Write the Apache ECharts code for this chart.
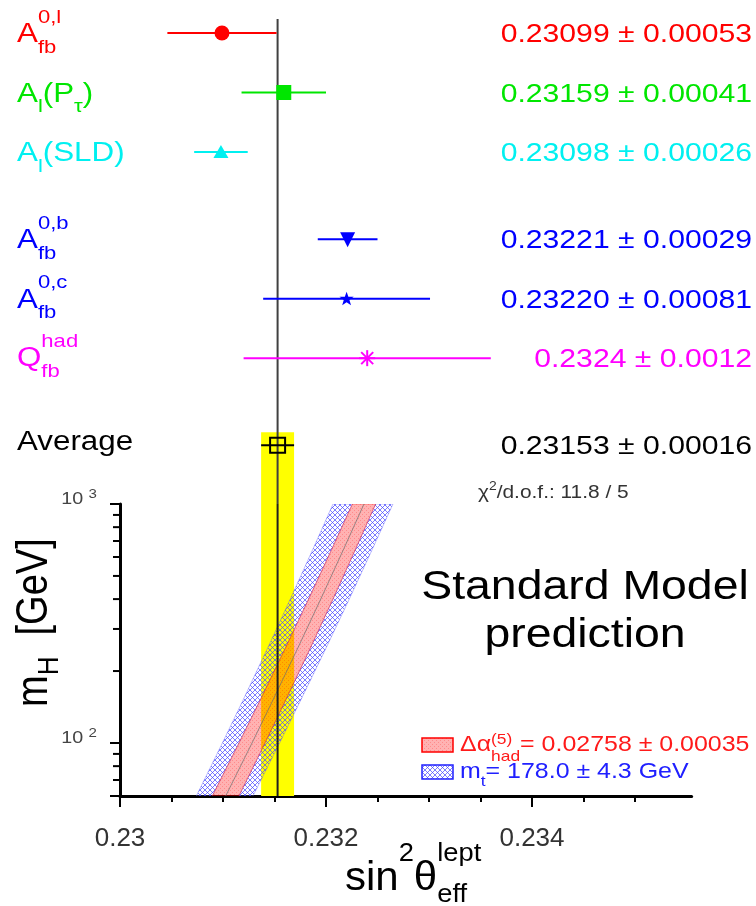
<!DOCTYPE html>
<html><head><meta charset="utf-8">
<script src="https://cdn.jsdelivr.net/npm/echarts@6/dist/echarts.min.js"></script>
<style>html,body{margin:0;padding:0;background:#fff}#c{width:756px;height:906px}</style>
</head><body><div id="c"></div>
<script>
// ---------------- data ----------------
const measLabels = [
  [['A','n'],['fb','sub'],['0,l','sup']],
  [['A','n'],['l','sub'],['(P','n'],['τ','sub'],[')','n']],
  [['A','n'],['l','sub'],['(SLD)','n']],
  [['A','n'],['fb','sub'],['0,b','sup']],
  [['A','n'],['fb','sub'],['0,c','sup']],
  [['Q','n'],['fb','sub'],['had','sup']],
  [['Average','n']]
];
const measValues = [0.23099, 0.23159, 0.23098, 0.23221, 0.23220, 0.2324, 0.23153];
const measErrors = [0.00053, 0.00041, 0.00026, 0.00029, 0.00081, 0.0012, 0.00016];
const measValueText = ['0.23099 ± 0.00053','0.23159 ± 0.00041','0.23098 ± 0.00026',
  '0.23221 ± 0.00029','0.23220 ± 0.00081','0.2324 ± 0.0012','0.23153 ± 0.00016'];
const measGroup = [0,0,0,1,1,1,2];
const chi2Text = [['χ','n'],['2','sup'],['/d.o.f.: 11.8 / 5','n']];

const xTickLabels = [0.23, 0.232, 0.234];
const xMinorTicks = [0.2305, 0.231, 0.2315, 0.2325, 0.233, 0.2335, 0.2345, 0.235];
const mHTickLabels = [100, 1000];
const mHMinorTicks = [60, 70, 80, 90, 200, 300, 400, 500, 600, 700, 800, 900];

// SM prediction bands vs m_H (GeV)
const bandMH     = [60, 100, 150, 250, 400, 650, 1000];
const alphaLo    = [0.230896, 0.231155, 0.231357, 0.231606, 0.231831, 0.232058, 0.232256];
const alphaHi    = [0.231155, 0.231408, 0.231605, 0.231849, 0.232068, 0.232289, 0.232482];
const mtLo       = [0.230741, 0.230994, 0.231191, 0.231434, 0.231653, 0.231875, 0.232068];
const mtHi       = [0.231291, 0.231550, 0.231751, 0.232001, 0.232226, 0.232452, 0.232650];
const smCentral  = [0.231026, 0.231282, 0.231481, 0.231727, 0.231949, 0.232173, 0.232369];

const legendAlpha = [['Δα','n'],['had','sub'],['(5)','sup'],['= 0.02758 ± 0.00035','n']];
const legendMt = [['m','n'],['t','sub'],['= 178.0 ± 4.3 GeV','n']];
const xTitle = [['sin','n'],['2','sup'],['θ','n'],['eff','sub'],['lept','sup']];
const yTitle = [['m','n'],['H','sub'],['  [GeV]','n']];

// ---------------- styles / layout ----------------
const measColors = ['#ff0000','#00e600','#00f0f0','#0000ff','#0000ff','#ff00ff','#000000'];
const measMarkers = ['circle','square','triangle','triangleDown','star','asterisk','openSquare'];
const labelShift = [0,0,0,0,0,-1,-4];
const XMIN = 0.23, XMAX = 0.23555;
const PXPERX = 103000;
const GRID_W = (XMAX - XMIN) * PXPERX;
const rowPos = measValues.map((v, i) => i + measGroup[i] * 0.465);
const AVG = measValues.length - 1;

const SX = 1.16;
const FONT = '"Liberation Sans", Arial, Helvetica, sans-serif';
const mctx = document.createElement('canvas').getContext('2d');
function textW(t, fs) { mctx.font = fs + 'px ' + FONT; return mctx.measureText(t).width; }

function richText(x, base, segs, o) {
  const sx = o.sx == null ? SX : o.sx, sy = o.sy == null ? 1 : o.sy;
  const items = []; let cx = 0, smallStart = 0, smallW = 0, prevK = 'n';
  segs.forEach(([t, k]) => {
    const fs = k === 'n' ? o.fs : o.fs2;
    const w = textW(t, fs) * sx;
    if (k !== 'n' && prevK !== 'n' && prevK !== k) {
      items.push({t, k, fs, x: smallStart});
      smallW = Math.max(smallW, w); cx = smallStart + smallW;
    } else {
      if (k !== 'n') { smallStart = cx; smallW = w; }
      items.push({t, k, fs, x: cx}); cx += w;
    }
    prevK = k;
  });
  const shift = o.align === 'right' ? -cx : (o.align === 'center' ? -cx / 2 : 0);
  return items.map(it => {
    const b = base + (it.k === 'sub' ? o.subDy : it.k === 'sup' ? -o.supDy : 0);
    return {type: 'text', x: x + it.x + shift, y: b - 0.35 * it.fs * sy, scaleX: sx, scaleY: sy, silent: true,
      style: {text: it.t, font: it.fs + 'px ' + FONT, fill: o.color, align: 'left', textAlign: 'left',
        verticalAlign: 'middle', textVerticalAlign: 'middle'}};
  });
}

function pattern(w, h, draw) {
  const c = document.createElement('canvas'); c.width = w; c.height = h;
  draw(c.getContext('2d')); return {image: c, repeat: 'repeat'};
}
const redPat = pattern(4, 4, g => {
  g.fillStyle = 'rgba(255,0,0,0.30)'; g.fillRect(0, 0, 4, 4);
  g.fillStyle = 'rgba(255,0,0,0.22)'; g.fillRect(0, 0, 1, 1); g.fillRect(2, 2, 1, 1);
});
const bluePat = pattern(5, 5, g => {
  g.strokeStyle = 'rgba(70,70,255,0.7)'; g.lineWidth = 1;
  g.beginPath(); g.moveTo(0, 0); g.lineTo(5, 5); g.moveTo(5, 0); g.lineTo(0, 5); g.stroke();
});

function marker(kind, x, y, col) {
  const st = {fill: col};
  switch (kind) {
    case 'circle': return {type: 'circle', shape: {cx: x, cy: y, r: 7.5}, style: st};
    case 'square': return {type: 'rect', shape: {x: x - 7.5, y: y - 7.5, width: 15, height: 15}, style: st};
    case 'triangle': return {type: 'polygon', shape: {points: [[x, y - 7], [x + 7.5, y + 6], [x - 7.5, y + 6]]}, style: st};
    case 'triangleDown': return {type: 'polygon', shape: {points: [[x - 7.5, y - 7], [x + 7.5, y - 7], [x, y + 8]]}, style: st};
    case 'star': {
      const pts = [];
      for (let k = 0; k < 10; k++) {
        const r = k % 2 ? 3 : 7.5, a = -Math.PI / 2 + k * Math.PI / 5;
        pts.push([x + r * Math.cos(a), y + 0.5 + r * Math.sin(a)]);
      }
      return {type: 'polygon', shape: {points: pts}, style: st};
    }
    case 'asterisk': {
      const s = {stroke: col, lineWidth: 2};
      return {type: 'group', children: [
        {type: 'line', shape: {x1: x, y1: y - 8, x2: x, y2: y + 8}, style: s},
        {type: 'line', shape: {x1: x - 6, y1: y - 6, x2: x + 6, y2: y + 6}, style: s},
        {type: 'line', shape: {x1: x - 6, y1: y + 6, x2: x + 6, y2: y - 6}, style: s},
        {type: 'line', shape: {x1: x - 8, y1: y, x2: x + 8, y2: y}, style: s}]};
    }
    case 'openSquare': return {type: 'rect', shape: {x: x - 7.5, y: y - 7.5, width: 15, height: 15},
      style: {fill: 'none', stroke: col, lineWidth: 2}};
  }
}

const chart = echarts.init(document.getElementById('c'), null, {renderer: 'canvas'});

const option = {
  animation: false,
  backgroundColor: '#fff',
  grid: [
    {left: 120, top: 19, width: GRID_W, height: 485},
    {left: 120, top: 504, width: GRID_W, height: 292}
  ],
  xAxis: [
    {gridIndex: 0, type: 'value', min: XMIN, max: XMAX, show: false},
    {gridIndex: 1, type: 'value', min: XMIN, max: XMAX, interval: 0.002, position: 'bottom',
      axisLine: {onZero: false, lineStyle: {color: '#000', width: 3}},
      axisTick: {customValues: xTickLabels, length: 11, lineStyle: {color: '#000', width: 2}},
      axisLabel: {customValues: xTickLabels, margin: 30, fontSize: 26, fontFamily: FONT, color: '#333',
        formatter: v => String(+(+v).toFixed(4))},
      splitLine: {show: false}},
    {gridIndex: 1, type: 'value', min: XMIN, max: XMAX, position: 'bottom',
      axisLine: {show: false},
      axisTick: {customValues: xMinorTicks, length: 6, lineStyle: {color: '#000', width: 2}},
      axisLabel: {show: false}, splitLine: {show: false}}
  ],
  yAxis: [
    {gridIndex: 0, type: 'value', inverse: true, min: -0.2353, max: 7.916, show: false},
    {gridIndex: 1, type: 'log', logBase: 10, min: 60, max: 1000, position: 'left',
      axisLine: {onZero: false, lineStyle: {color: '#000', width: 3}},
      axisTick: {length: 10, lineStyle: {color: '#000', width: 2}},
      axisLabel: {show: false},
      splitLine: {show: false}}
  ],
  series: [
    // yellow average band (upper part)
    {type: 'custom', xAxisIndex: 0, yAxisIndex: 0, clip: false, silent: true, z: 1,
      data: [[measValues[AVG], rowPos[AVG], measErrors[AVG]]],
      renderItem: (params, api) => {
        const v = api.value(0), e = api.value(2);
        const a = api.coord([v - e, api.value(1)]), b = api.coord([v + e, api.value(1)]);
        const cs = params.coordSys;
        return {type: 'rect', shape: {x: a[0], y: a[1] - 13, width: b[0] - a[0], height: cs.y + cs.height - (a[1] - 13)},
          style: {fill: '#ffff00'}};
      }},
    // yellow average band (lower plot)
    {type: 'custom', xAxisIndex: 1, yAxisIndex: 1, clip: true, silent: true, z: 1,
      data: [[measValues[AVG], 200, measErrors[AVG]]],
      renderItem: (params, api) => {
        const v = api.value(0), e = api.value(2);
        const a = api.coord([v - e, 1000]), b = api.coord([v + e, 60]);
        return {type: 'rect', shape: {x: a[0], y: a[1], width: b[0] - a[0], height: b[1] - a[1]}, style: {fill: '#ffff00'}};
      }},
    // SM prediction bands
    {type: 'custom', xAxisIndex: 1, yAxisIndex: 1, clip: true, silent: true, z: 2,
      data: [[smCentral[0], bandMH[0]]],
      renderItem: (params, api) => {
        const P = (x, m) => api.coord([x, m]);
        const up = arr => arr.map((x, i) => P(x, bandMH[i]));
        const down = arr => arr.map((x, i) => P(x, bandMH[i])).reverse();
        const leftStrip = up(mtLo).concat(down(alphaLo));
        const rightStrip = up(alphaHi).concat(down(mtHi));
        const red = up(alphaLo).concat(down(alphaHi));
        return {type: 'group', children: [
          {type: 'polygon', shape: {points: leftStrip}, style: {fill: bluePat, stroke: 'rgba(90,90,255,0.4)', lineWidth: 1}},
          {type: 'polygon', shape: {points: rightStrip}, style: {fill: bluePat, stroke: 'rgba(90,90,255,0.4)', lineWidth: 1}},
          {type: 'polygon', shape: {points: red}, style: {fill: redPat, stroke: 'rgba(255,0,0,0.35)', lineWidth: 1}},
          {type: 'polyline', shape: {points: up(smCentral)}, style: {fill: 'none', stroke: 'rgba(110,110,110,0.7)', lineWidth: 1}}
        ]};
      }},
    // vertical average line (upper)
    {type: 'custom', xAxisIndex: 0, yAxisIndex: 0, clip: false, silent: true, z: 5,
      data: [[measValues[AVG], 0]],
      renderItem: (params, api) => {
        const x = api.coord([api.value(0), 0])[0], cs = params.coordSys;
        return {type: 'line', shape: {x1: x, y1: cs.y, x2: x, y2: cs.y + cs.height}, style: {stroke: '#404040', lineWidth: 2}};
      }},
    // vertical average line (lower)
    {type: 'custom', xAxisIndex: 1, yAxisIndex: 1, clip: true, silent: true, z: 5,
      data: [[measValues[AVG], 200]],
      renderItem: (params, api) => {
        const a = api.coord([api.value(0), 1000]), b = api.coord([api.value(0), 60]);
        return {type: 'line', shape: {x1: a[0], y1: a[1], x2: b[0], y2: b[1]}, style: {stroke: '#202020', lineWidth: 2}};
      }},
    // error bars + markers
    {type: 'custom', xAxisIndex: 0, yAxisIndex: 0, clip: false, silent: true, z: 6,
      data: measValues.map((v, i) => [v, rowPos[i], i, measErrors[i]]),
      renderItem: (params, api) => {
        const v = api.value(0), r = api.value(1), i = api.value(2), e = api.value(3);
        const p = api.coord([v, r]), a = api.coord([v - e, r]), b = api.coord([v + e, r]);
        const col = measColors[i];
        return {type: 'group', children: [
          {type: 'line', shape: {x1: a[0], y1: a[1], x2: b[0], y2: b[1]}, style: {stroke: col, lineWidth: 2}},
          marker(measMarkers[i], p[0], p[1], col)]};
      }},
    // row labels and value texts
    {type: 'custom', xAxisIndex: 0, yAxisIndex: 0, clip: false, silent: true, z: 10,
      data: measValues.map((v, i) => [v, rowPos[i], i]),
      renderItem: (params, api) => {
        const i = api.value(2);
        const y = api.coord([XMIN, api.value(1)])[1];
        const ch = richText(17, y + 11 + labelShift[i], measLabels[i], {fs: 27, fs2: 19, subDy: 10, supDy: 20, color: measColors[i]})
          .concat(richText(752, y + 11, [[measValueText[i], 'n']], {fs: 26, fs2: 18, subDy: 0, supDy: 0, color: measColors[i], align: 'right'}));
        return {type: 'group', children: ch};
      }},
    // minor ticks of the m_H axis
    {type: 'custom', xAxisIndex: 1, yAxisIndex: 1, clip: false, silent: true, z: 7,
      data: mHMinorTicks.map(m => [XMIN, m]),
      renderItem: (params, api) => {
        const p = api.coord([api.value(0), api.value(1)]);
        return {type: 'line', shape: {x1: p[0] - 7, y1: p[1], x2: p[0], y2: p[1]}, style: {stroke: '#000', lineWidth: 2}};
      }},
    // m_H tick labels 10^n
    {type: 'custom', xAxisIndex: 1, yAxisIndex: 1, clip: false, silent: true, z: 7,
      data: mHTickLabels.map(m => [XMIN, m]),
      renderItem: (params, api) => {
        const m = api.value(1);
        const p = api.coord([api.value(0), m]);
        const e = Math.round(Math.log10(m));
        return {type: 'group', children: richText(p[0] - 23, p[1] + 1, [['10 ', 'n'], [String(e), 'sup']],
          {fs: 17, fs2: 13, subDy: 0, supDy: 6, color: '#444', align: 'right'})};
      }}
  ],
  graphic: [].concat(
    richText(478, 499, chi2Text, {fs: 18, fs2: 12, subDy: 0, supDy: 8, color: '#333'}),
    richText(585, 602, [['Standard Model', 'n']], {fs: 40, fs2: 30, subDy: 0, supDy: 0, color: '#000', align: 'center'}),
    richText(585, 650, [['prediction', 'n']], {fs: 40, fs2: 30, subDy: 0, supDy: 0, color: '#000', align: 'center'}),
    [{type: 'rect', shape: {x: 422, y: 738, width: 31, height: 14}, style: {fill: redPat, stroke: '#ff0000', lineWidth: 1.5}, silent: true},
     {type: 'rect', shape: {x: 422, y: 765, width: 31, height: 14}, style: {fill: bluePat, stroke: '#2020ff', lineWidth: 1.5}, silent: true}],
    richText(460, 753, legendAlpha, {fs: 21.5, fs2: 15, subDy: 9, supDy: 8, color: '#ff1a1a'}),
    richText(460, 780, legendMt, {fs: 21.5, fs2: 15, subDy: 7, supDy: 8, color: '#2020ff'}),
    richText(345, 893, xTitle, {fs: 40, fs2: 26, subDy: 11, supDy: 30, color: '#000', sx: 1.05}),
    [{type: 'group', x: 50, y: 707, rotation: Math.PI / 2, silent: true,
      children: richText(0, 0, yTitle, {fs: 38, fs2: 26, subDy: 10, supDy: 0, color: '#000', sx: 1, sy: 1.16})}]
  )
};
chart.setOption(option);
</script>
</body></html>
